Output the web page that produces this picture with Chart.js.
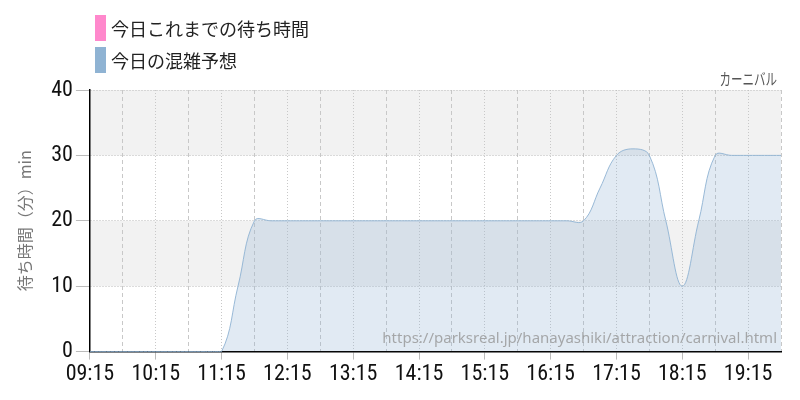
<!DOCTYPE html>
<html><head><meta charset="utf-8">
<script src="https://cdn.jsdelivr.net/npm/chart.js@4"></script>
<style>
html,body{margin:0;padding:0;background:#fff;}
#wrap{position:relative;width:800px;height:400px;}
#legend{position:absolute;left:95px;top:15px;font-family:"Noto Sans CJK JP",sans-serif;font-size:18px;color:#222;}
.item{display:flex;align-items:center;height:26px;margin-bottom:6px;}
.box{width:11px;height:26px;margin-right:5px;}
</style></head>
<body><div id="wrap"><canvas id="c" width="800" height="400"></canvas><div id="legend"></div></div>
<script>
const times = ['09:15','09:30','09:45','10:00','10:15','10:30','10:45','11:00','11:15','11:30','11:45','12:00',
  '12:15','12:30','12:45','13:00','13:15','13:30','13:45','14:00','14:15','14:30','14:45','15:00',
  '15:15','15:30','15:45','16:00','16:15','16:30','16:45','17:00','17:15','17:30','17:45','18:00',
  '18:15','18:30','18:45','19:00','19:15','19:30','19:45'];
const forecast = [0,0,0,0,0,0,0,0,0,10,20,20,
  20,20,20,20,20,20,20,20,20,20,20,20,
  20,20,20,20,20,20,20,25,30,31,30,20,
  10,20,30,30,30,30,30];
const actualWait = [];
const yTicks = [0,10,20,30,40];
const seriesNames = ['今日これまでの待ち時間','今日の混雑予想'];
const seriesColors = ['#ff88cc','#8fb3d3'];
const chartTitle = 'カーニバル';
const yTitle = '待ち時間（分）min';
const sourceUrl = 'https://parksreal.jp/hanayashiki/attraction/carnival.html';

// HTML legend
const lg = document.getElementById('legend');
seriesNames.forEach((n,i)=>{
  const d=document.createElement('div');d.className='item';
  const b=document.createElement('span');b.className='box';b.style.background=seriesColors[i];
  const t=document.createElement('span');t.textContent=n;
  d.appendChild(b);d.appendChild(t);lg.appendChild(d);
});

const condensed = '"Liberation Sans Narrow","Roboto Condensed","DejaVu Sans Condensed",sans-serif';

const bands = {
  id:'bands',
  beforeDraw(chart){
    const {ctx, chartArea:a, scales:{y}} = chart;
    ctx.save();ctx.fillStyle='#f2f2f2';
    [[30,40],[10,20]].forEach(([lo,hi])=>{
      const t=y.getPixelForValue(hi), b=y.getPixelForValue(lo);
      ctx.fillRect(a.left,t,a.right-a.left,b-t);
    });
    ctx.restore();
  },
  afterDraw(chart){
    const {ctx, chartArea:a} = chart;
    ctx.save();
    ctx.font='15px "Noto Sans",sans-serif';
    ctx.fillStyle='rgba(150,150,150,0.8)';
    ctx.textAlign='right';ctx.textBaseline='alphabetic';
    ctx.fillText(sourceUrl,a.right-4,a.bottom-9);
    ctx.restore();
    // chart title (right aligned, narrow kana)
    ctx.save();
    ctx.font='16px "Noto Sans CJK JP",sans-serif';
    ctx.fillStyle='#555';
    ctx.textAlign='right';ctx.textBaseline='alphabetic';
    ctx.translate(a.right-4,a.top-5);
    ctx.scale(0.72,1);
    ctx.fillText(chartTitle,0,0);
    ctx.restore();
  }
};

new Chart(document.getElementById('c'),{
  type:'line',
  data:{
    labels:times,
    datasets:[
      {label:seriesNames[0],data:actualWait,borderColor:seriesColors[0],backgroundColor:seriesColors[0],pointRadius:0,borderWidth:2},
      {label:seriesNames[1],data:forecast,borderColor:'rgba(143,179,211,0.9)',backgroundColor:'rgba(143,179,211,0.27)',fill:'origin',pointRadius:0,borderWidth:1,tension:0.4,clip:{left:0,right:0,top:0,bottom:3}}
    ]
  },
  options:{
    responsive:false,animation:false,
    layout:{padding:{top:90,right:19,bottom:10,left:15}},
    plugins:{
      legend:{display:false},tooltip:{enabled:false},title:{display:false}
    },
    scales:{
      x:{
        offset:false,
        grid:{
          color:(c)=> c.index%2===0 ? '#c8c8c8' : 'rgba(0,0,0,0)',
          tickColor:(c)=> c.index%4===0 ? '#bbb' : 'rgba(0,0,0,0)',
          tickLength:8,
          drawOnChartArea:true
        },
        border:{color:'#000',width:1.5,dash:(c)=> c.index%4===0 ? [1,2] : [4,3]},
        ticks:{autoSkip:false,maxRotation:0,color:'#111',padding:2,font:{size:22,family:condensed},
          callback:function(v,i){return i%4===0 ? this.getLabelForValue(v) : '';}}
      },
      y:{
        min:0,max:40,
        afterBuildTicks:(s)=>{s.ticks=yTicks.map(v=>({value:v}));},
        grid:{color:'#bbb',tickColor:'#bbb',tickLength:14,tickBorderDash:[]},
        border:{color:'#000',width:1.5,dash:[1,2]},
        ticks:{color:'#111',padding:3,font:{size:22,family:condensed}},
        title:{display:true,text:yTitle,color:'#777',font:{size:16,family:'"Noto Sans CJK JP",sans-serif'},padding:{top:0,bottom:14}}
      }
    }
  },
  plugins:[bands]
});
</script>
</body></html>
